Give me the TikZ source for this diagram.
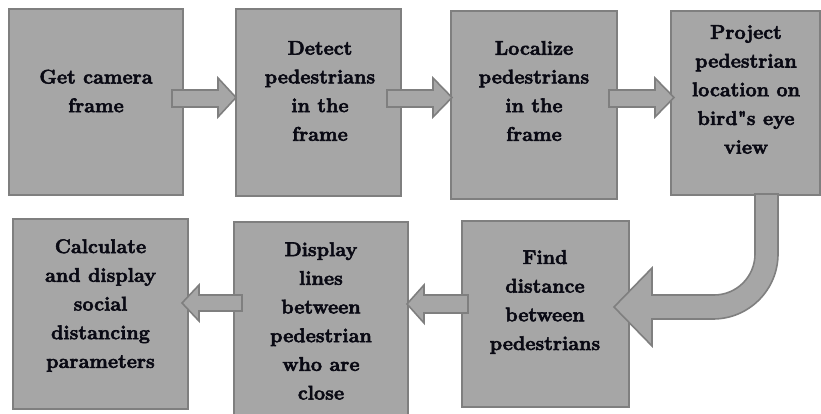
\documentclass[tikz,border=0pt]{standalone}
\definecolor{boxfill}{HTML}{A6A6A6}
\definecolor{boxline}{HTML}{7F7F7F}
\definecolor{txt}{HTML}{0A0A14}
\newcommand\heavytext{\special{pdf:literal direct 2 Tr 0.55 w}}
\begin{document}
\begin{tikzpicture}[x=1pt,y=-1pt,
  box/.style={draw=boxline, fill=boxfill, line width=1.6pt, rectangle, inner sep=0pt},
  lbl/.style={align=center, font=\fontsize{19.8}{28.7}\selectfont\bfseries\heavytext, text=txt, inner sep=0pt},
  barrow/.style={draw=boxline, fill=boxfill, line width=1.6pt, line join=miter}]
\useasboundingbox (0,0) rectangle (821,414);
% boxes
\node[box, minimum width=174pt, minimum height=186pt] (b1) at (96,102) {};
\node[box, minimum width=165pt, minimum height=187pt] (b2) at (318.5,102.5) {};
\node[box, minimum width=166pt, minimum height=188pt] (b3) at (534,105) {};
\node[box, minimum width=149pt, minimum height=184pt] (b4) at (745.5,103) {};
\node[box, minimum width=167pt, minimum height=186pt] (b5) at (545.5,314) {};
\node[box, minimum width=174pt, minimum height=196pt] (b6) at (321,320) {};
\node[box, minimum width=175pt, minimum height=190pt] (b7) at (100.5,314) {};
% block arrows
\draw[barrow] (172,90) -- (218,90) -- (218,78) -- (236,97.5) -- (218,117) -- (218,107) -- (172,107) -- cycle;
\draw[barrow] (387,90) -- (433,90) -- (433,78) -- (452,97.5) -- (433,117) -- (433,107) -- (387,107) -- cycle;
\draw[barrow] (609,90) -- (655,90) -- (655,78) -- (674,97.5) -- (655,117) -- (655,107) -- (609,107) -- cycle;
\draw[barrow] (755,194) -- (755,254) arc[start angle=0,end angle=-90,radius=41pt] -- (652,295) -- (652,268) -- (614,307) -- (652,346) -- (652,319) -- (713,319) arc[start angle=-90,end angle=0,radius=65pt] -- (778,194) -- cycle;
\draw[barrow] (468,295) -- (424,295) -- (424,285) -- (407,304) -- (424,323) -- (424,313) -- (468,313) -- cycle;
\draw[barrow] (242,295) -- (199,295) -- (199,285) -- (182,303) -- (199,321) -- (199,311) -- (242,311) -- cycle;
% labels
\node[lbl] (t1) at (96,91) {Get camera\\frame};
\node[lbl] (t2) at (320,91) {Detect\\pedestrians\\in the\\frame};
\node[lbl] (t3) at (534,91) {Localize\\pedestrians\\in the\\frame};
\node[lbl] (t4) at (746,89.5) {Project\\pedestrian\\location on\\bird\textquotedbl s eye\\view};
\node[lbl] (t5) at (545,302) {Find\\distance\\between\\pedestrians};
\node[lbl] (t6) at (321,321) {Display\\lines\\between\\pedestrian\\who are\\close};
\node[lbl] (t7) at (100.5,305.5) {Calculate\\and display\\social\\distancing\\parameters};
\end{tikzpicture}
\end{document}
